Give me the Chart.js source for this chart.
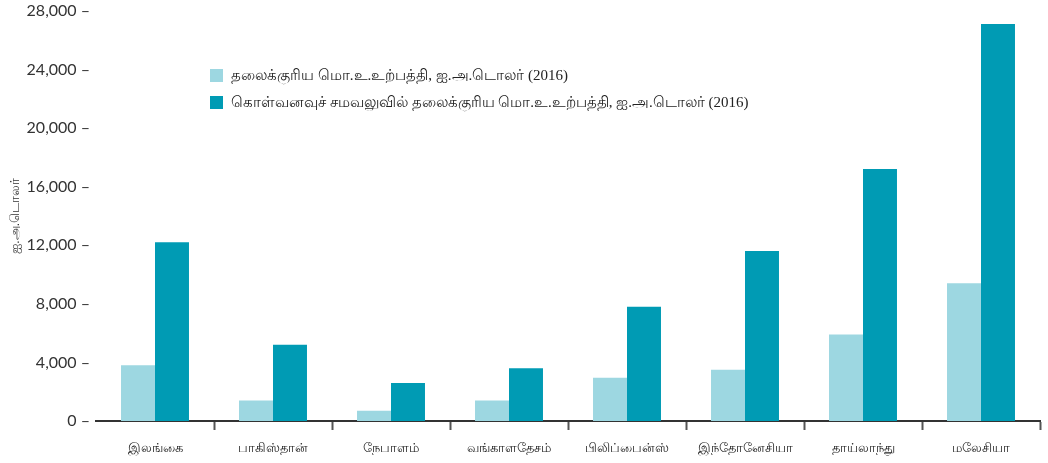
<!DOCTYPE html>
<html>
<head>
<meta charset="utf-8">
<script src="https://cdn.jsdelivr.net/npm/chart.js@4.4.1/dist/chart.umd.min.js"></script>
<style>
  html, body { margin: 0; padding: 0; background: #fff; }
  #chart { display: block; }
</style>
</head>
<body>
<canvas id="chart" width="1048" height="463"></canvas>
<script>
const countries = ["இலங்கை", "பாகிஸ்தான்", "நேபாளம்", "வங்காளதேசம்", "பிலிப்பைன்ஸ்", "இந்தோனேசியா", "தாய்லாந்து", "மலேசியா"];
const gdpPerCapita = [3800, 1400, 700, 1400, 2950, 3500, 5900, 9400];
const gdpPerCapitaPPP = [12200, 5200, 2600, 3600, 7800, 11600, 17200, 27100];
const seriesNames = [
  "தலைக்குரிய மொ.உ.உற்பத்தி, ஐ.அ.டொலர் (2016)",
  "கொள்வனவுச் சமவலுவில் தலைக்குரிய மொ.உ.உற்பத்தி, ஐ.அ.டொலர் (2016)"
];
const yTicks = [0, 4000, 8000, 12000, 16000, 20000, 24000, 28000];
const yTitle = "ஐ.அ.டொலர்";

const lightColor = "#9dd7e1";
const darkColor = "#009bb4";

// legend drawn inside the plot, top-left like the original
const legendPlugin = {
  id: "floatLegend",
  afterDraw(chart) {
    const ctx = chart.ctx;
    ctx.save();
    ctx.font = '15px "Liberation Serif", serif';
    ctx.textBaseline = "middle";
    chart.data.datasets.forEach((ds, i) => {
      const y = 75 + i * 27;
      ctx.fillStyle = ds.backgroundColor;
      ctx.fillRect(210, y - 6, 13, 13);
      ctx.fillStyle = "#222";
      ctx.fillText(ds.label, 231, y + 1);
    });
    ctx.restore();
  }
};

new Chart(document.getElementById("chart"), {
  type: "bar",
  data: {
    labels: countries,
    datasets: [
      { label: seriesNames[0], data: gdpPerCapita, backgroundColor: lightColor },
      { label: seriesNames[1], data: gdpPerCapitaPPP, backgroundColor: darkColor }
    ]
  },
  options: {
    responsive: false,
    animation: false,
    layout: { padding: { top: 7, right: 8, left: 0, bottom: 0 } },
    datasets: { bar: { categoryPercentage: 0.576, barPercentage: 1 } },
    plugins: { legend: { display: false }, tooltip: { enabled: false } },
    scales: {
      x: {
        afterFit(scale) { scale.height = 42; },
        border: { display: true, color: "#333", width: 2 },
        grid: {
          drawOnChartArea: false,
          tickLength: 9,
          tickWidth: 2,
          tickColor: (c) => (c.index === 0 || c.index === countries.length) ? "rgba(0,0,0,0)" : "#555"
        },
        ticks: { color: "#222", padding: 11, font: { size: 13, family: "sans-serif" } }
      },
      y: {
        min: 0,
        max: 28000,
        afterFit(scale) { scale.width = 96; },
        afterBuildTicks(scale) { scale.ticks = yTicks.map((v) => ({ value: v })); },
        border: { display: false },
        grid: { display: false, drawTicks: false },
        title: { display: true, text: yTitle, color: "#333", font: { size: 13 }, padding: { top: 8, bottom: 0 } },
        ticks: {
          color: "#333",
          padding: 6,
          font: { size: 16, family: "Lato", lineHeight: 0.6 },
          callback: (v) => v.toLocaleString("en-US") + " –"
        }
      }
    }
  },
  plugins: [legendPlugin]
});
</script>
</body>
</html>
